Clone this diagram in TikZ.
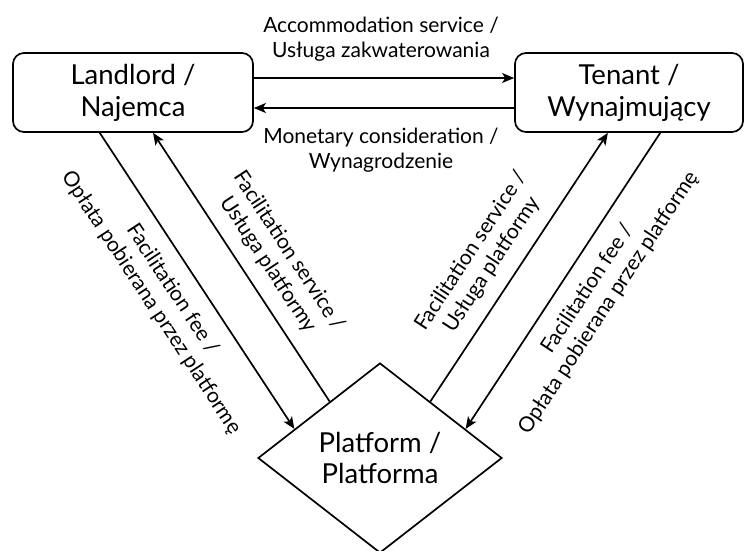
\documentclass[tikz,border=0pt]{standalone}
\usepackage{fontspec}
\setmainfont{Lato}
\usetikzlibrary{shapes.geometric,arrows.meta,calc}
\begin{document}
\begin{tikzpicture}[x=1pt,y=1pt,
  ent/.style={draw,line width=1.7pt,rounded corners=11pt,inner sep=0pt,font=\fontsize{27.5}{32}\selectfont,align=center,minimum height=79pt},
  plat/.style={draw,diamond,line width=1.7pt,inner sep=0pt,minimum width=244pt,minimum height=190pt,font=\fontsize{27.5}{31}\selectfont,align=center},
  flow/.style={line width=1.7pt,-{Stealth[length=12pt,width=10pt,inset=3pt]}},
  lbl/.style={font=\fontsize{21}{25}\selectfont,align=center,inner sep=0pt}]
\useasboundingbox (0,0) rectangle (745,-550);
\node[ent,minimum width=240pt] (land) at (133,-92.5) {Landlord /\\Najemca};
\node[ent,minimum width=228pt] (ten) at (629,-92.5) {Tenant /\\Wynajmujący};
\node[plat] (plat) at (380,-458) {Platform /\\Platforma};
\draw[flow] ([yshift=14.5pt]land.east) -- ([yshift=14.5pt]ten.west);
\draw[flow] ([yshift=-15.5pt]ten.west) -- ([yshift=-15.5pt]land.east);
\draw[flow] ($(land.south west)!0.3625!(land.south east)$) -- ($(plat.north)!0.697!(plat.west)$);
\draw[flow] ($(plat.north)!0.41!(plat.west)$) -- ($(land.south west)!0.583!(land.south east)$);
\draw[flow] ($(plat.north)!0.41!(plat.east)$) -- ($(ten.south west)!0.408!(ten.south east)$);
\draw[flow] ($(ten.south west)!0.636!(ten.south east)$) -- ($(plat.north)!0.697!(plat.east)$);
\node[lbl] (accl) at (381,-39) {Accommodation service /\\Usługa zakwaterowania};
\node[lbl] (monl) at (381,-150) {Monetary consideration /\\Wynagrodzenie};
\node[lbl,rotate=-56.7] (feel) at (162,-296) {Facilitation fee /\\Opłata pobierana przez platformę};
\node[lbl,rotate=-56.7] (serl) at (278.5,-258) {Facilitation service /\\Usługa platformy};
\node[lbl,rotate=56.7] (serr) at (481.5,-258) {Facilitation service /\\Usługa platformy};
\node[lbl,rotate=56.7] (feer) at (598,-296) {Facilitation fee /\\Opłata pobierana przez platformę};
\end{tikzpicture}
\end{document}
